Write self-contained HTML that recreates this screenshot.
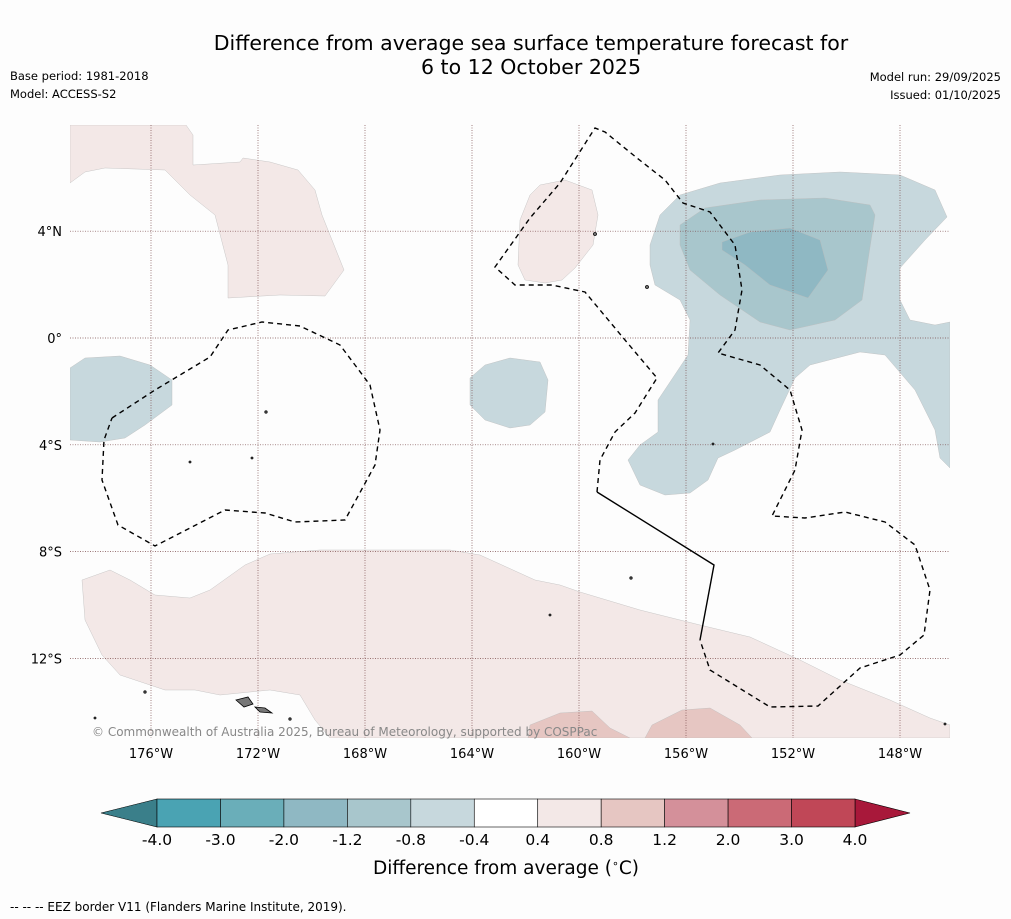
<!DOCTYPE html>
<html><head><meta charset="utf-8"><style>
body{margin:0;background:#fdfdfd;font-family:"DejaVu Sans","Liberation Sans",sans-serif}
svg{display:block}
</style></head><body>
<svg width="1011" height="919" viewBox="0 0 1011 919" xmlns="http://www.w3.org/2000/svg" font-family="DejaVu Sans, Liberation Sans, sans-serif">
<rect width="1011" height="919" fill="#fdfdfd"/>
<g font-size="20.5" text-anchor="middle" fill="#000">
<text x="531" y="50">Difference from average sea surface temperature forecast for</text>
<text x="531" y="74">6 to 12 October 2025</text>
</g>
<g font-size="11.5" fill="#000">
<text x="10" y="80">Base period: 1981-2018</text>
<text x="10" y="98">Model: ACCESS-S2</text>
<text x="1001" y="81" text-anchor="end">Model run: 29/09/2025</text>
<text x="1001" y="99" text-anchor="end">Issued: 01/10/2025</text>
</g>
<g>
<clipPath id="mc"><rect x="70" y="125" width="880" height="613"/></clipPath>
<g clip-path="url(#mc)" stroke="#bbb" stroke-width="0.4">
<polygon fill="#f3e8e7" points="70,125 186,125 193,135 193,165 240,162 243,158 270,162 298,170 315,190 322,215 344,270 325,296 280,295 228,298 228,265 215,215 190,195 165,170 105,168 85,172 70,183"/>
<polygon fill="#f3e8e7" points="540,185 565,180 592,190 598,215 593,245 575,268 562,280 545,283 525,280 518,265 520,220 530,195"/>
<polygon fill="#c7d8dd" points="650,245 660,215 680,195 720,183 780,175 840,172 900,175 935,190 947,217 925,240 900,268 900,300 910,320 935,325 950,322 950,468 940,458 935,430 915,390 885,355 860,352 810,365 795,378 780,410 770,432 735,450 718,458 708,480 690,493 665,495 640,485 628,460 640,445 658,432 658,400 688,355 690,320 680,300 655,285 650,265"/>
<polygon fill="#a8c6cc" points="680,225 705,208 760,200 825,198 870,205 875,215 868,260 862,300 835,320 790,330 760,322 720,295 690,270 680,245"/>
<polygon fill="#8fb8c3" points="722,242 750,232 790,228 820,240 828,270 808,298 770,285 745,265 722,250"/>
<polygon fill="#c7d8dd" points="70,368 85,358 120,356 150,365 172,380 172,405 145,425 125,438 100,442 70,440"/>
<polygon fill="#c7d8dd" points="470,378 485,365 510,358 540,362 548,380 545,412 530,425 510,428 485,420 470,405"/>
<polygon fill="#f3e8e7" points="82,580 110,570 130,580 155,595 190,598 210,590 245,565 270,554 320,550 450,550 480,555 535,580 560,585 580,592 600,598 640,610 700,625 750,637 800,660 840,680 890,700 930,718 950,725 950,738 330,738 315,720 300,695 270,690 220,695 195,690 165,690 120,675 102,655 85,620"/>
<polygon fill="#e6c6c2" points="528,738 530,725 560,713 592,711 610,728 630,738"/>
<polygon fill="#e6c6c2" points="645,738 652,725 682,710 710,708 740,725 752,738"/>
</g>
<g id="grid" stroke="#7a4a4a" stroke-width="0.7" stroke-dasharray="1,1.5"></g>
<g fill="none" stroke="#000" stroke-width="1.4">
<polyline stroke-dasharray="5,4" points="112,418 155,390 210,357 228,330 262,322 300,326 340,345 370,385 380,430 375,465 345,520 295,522 265,513 225,510 155,546 118,525 102,480 104,440 112,418"/>
<polyline stroke-dasharray="5,4" points="597,492 600,460 615,432 635,413 657,378 625,340 585,292 552,285 515,285 495,267 530,218 560,183 595,128 605,132 637,158 665,180 683,203 710,212 735,245 742,290 735,330 718,353 760,365 790,390 802,430 795,470 772,516 805,518 845,512 885,522 915,545 930,590 924,635 900,655 860,668 818,706 770,707 710,670 700,640"/>
<polyline points="597,492 714,565 700,640"/>
</g>
<g fill="#777" stroke="#000" stroke-width="0.8">
<polygon points="236,700 248,697 253,704 244,707"/>
<polygon points="255,707 265,708 272,713 260,712"/>
<circle cx="266" cy="412" r="1.2"/><circle cx="252" cy="458" r="1"/><circle cx="190" cy="462" r="1"/>
<circle cx="595" cy="234" r="1.5"/><circle cx="647" cy="287" r="1.5"/><circle cx="631" cy="578" r="1.2"/>
<circle cx="550" cy="615" r="1"/><circle cx="145" cy="692" r="1.2"/><circle cx="290" cy="719" r="1.2"/>
<circle cx="95" cy="718" r="1"/><circle cx="945" cy="724" r="1"/><circle cx="713" cy="444" r="1"/>
</g>
<g id="ticks" font-size="13" fill="#000"></g>
<text x="92" y="736" font-size="12" fill="#888">© Commonwealth of Australia 2025, Bureau of Meteorology, supported by COSPPac</text>
</g>
<g id="colorbar"></g>
<text x="506" y="874" font-size="18.5" text-anchor="middle">Difference from average (<tspan font-size="11" dy="-7">∘</tspan><tspan dy="7">C)</tspan></text>
<text x="10" y="911" font-size="12">--  --  -- EEZ border V11 (Flanders Marine Institute, 2019).</text>
</svg>
<script>
const levels=[-4.0,-3.0,-2.0,-1.2,-0.8,-0.4,0.4,0.8,1.2,2.0,3.0,4.0];
const levelColors=["#4aa3b3","#6aaeb9","#8fb8c3","#a8c6cc","#c7d8dd","#ffffff","#f3e8e7","#e6c6c2","#d4909a","#cb6a76","#c04757"];
const lonTicks=[-176,-172,-168,-164,-160,-156,-152,-148];
const latTicks=[4,0,-4,-8,-12];
const NS="http://www.w3.org/2000/svg";
const lonX=l=>151+(l+176)*26.75;
const latY=l=>338-l*26.7;
function mk(t,a,p){const e=document.createElementNS(NS,t);for(const k in a)e.setAttribute(k,a[k]);p.appendChild(e);return e;}
const grid=document.getElementById('grid'),ticks=document.getElementById('ticks');
lonTicks.forEach(l=>{const x=lonX(l);
const g=mk('line',{x1:x,x2:x,y1:125,y2:738},grid);


const t=mk('text',{x:x,y:758,'text-anchor':'middle'},ticks);t.textContent=Math.abs(l)+'°W';

});
latTicks.forEach(l=>{const y=latY(l);
const g=mk('line',{x1:70,x2:950,y1:y,y2:y},grid);


const t=mk('text',{x:62,y:y+5,'text-anchor':'end'},ticks);t.textContent=l===0?'0°':Math.abs(l)+'°'+(l>0?'N':'S');

});
const cb=document.getElementById('colorbar');
const x0=157,x1=855,y0=799,y1=827,n=levelColors.length,w=(x1-x0)/n;
const lt=mk('polygon',{points:`${x0},${y0} 101,${(y0+y1)/2} ${x0},${y1}`,fill:'#3a7f8a',stroke:'#000','stroke-width':0.6},cb);


const rt=mk('polygon',{points:`${x1},${y0} 910,${(y0+y1)/2} ${x1},${y1}`,fill:'#a8183a',stroke:'#000','stroke-width':0.6},cb);


levelColors.forEach((c,i)=>{const r=mk('rect',{x:x0+i*w,y:y0,width:w,height:y1-y0,fill:c,stroke:'#000','stroke-width':0.6},cb);

});
levels.forEach((v,i)=>{const t=mk('text',{x:x0+i*w,y:845,'text-anchor':'middle','font-size':15.5},cb);t.textContent=v.toFixed(1);

});
</script>
</body></html>
